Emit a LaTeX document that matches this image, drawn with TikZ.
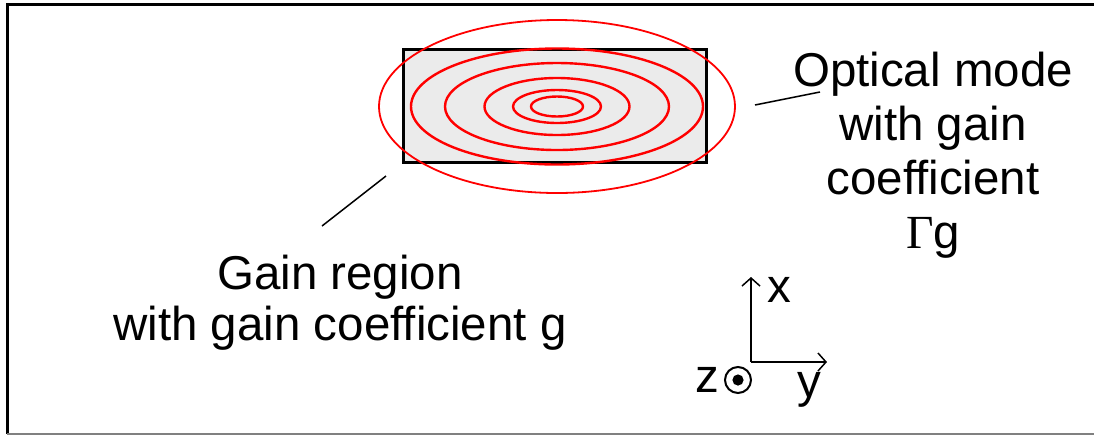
\documentclass[tikz,border=0pt]{standalone}
\usepackage{fontspec}
\setmainfont{Liberation Sans}
\newfontfamily\gammafont{Liberation Serif}
\usetikzlibrary{arrows.meta, positioning}

\begin{document}
\begin{tikzpicture}[
        x=0.5pt, y=-0.5pt,
        lbl/.style={inner sep=0pt, align=center, font=\fontsize{23.75}{27}\selectfont},
        mode/.style={draw=red, line width=1.2pt},
        axis/.style={line width=0.75pt, -{Straight Barb[length=4pt, width=9pt]}},
        leader/.style={line width=0.75pt}
    ]
        \useasboundingbox (0,0) rectangle (1094,436);

        % frame
        \draw[line width=1.5pt] (1100,4) -- (7,4) -- (7,434);
        \draw[gray, line width=1pt] (7,434) -- (1100,434);

        % gain region and optical mode
        \node[draw, line width=1.5pt, fill=black!8, minimum width=151.5pt, minimum height=56.5pt, inner sep=0pt] (gain) at (554.5,105.5) {};
        \coordinate (c) at (557,106.5);
        \draw[mode, line width=0.9pt] (c) ellipse [x radius=89pt, y radius=43.25pt];
        \foreach \rx/\ry in {73/29, 56/21.75, 36.25/14.25, 22/8.25, 13/5}
            \draw[mode] (c) ellipse [x radius=\rx pt, y radius=\ry pt];

        % labels
        \node[lbl, anchor=base] (modetxt) at (933,248) {Optical mode\\with gain\\coefficient\\{\gammafont Γ}g};
        \node[lbl, font=\fontsize{23.75}{25.5}\selectfont, anchor=base] (gaintxt) at (340,340) {Gain region\\with gain coefficient g};

        \coordinate (m1) at (755,105);
        \coordinate (m2) at (820,92);
        \draw[leader] (m1) -- (m2);
        \coordinate (g1) at (322,226);
        \coordinate (g2) at (386,176);
        \draw[leader] (g1) -- (g2);

        % axes
        \coordinate (o) at (751,362);
        \coordinate (xtip) at (751,277);
        \coordinate (ytip) at (827,362);
        \draw[axis] (o) -- (xtip);
        \draw[axis] (o) -- (ytip);
        \node[lbl, anchor=base] (xl) at (779,302) {x};
        \node[lbl, anchor=base] (yl) at (809,397) {y};
        \node[lbl, anchor=base] (zl) at (707,392) {z};
        \node[circle, draw, line width=1pt, minimum size=13pt, inner sep=0pt] (zdot) at (738,380) {};
        \fill (zdot.center) circle (2.8pt);
    \end{tikzpicture}
\end{document}
